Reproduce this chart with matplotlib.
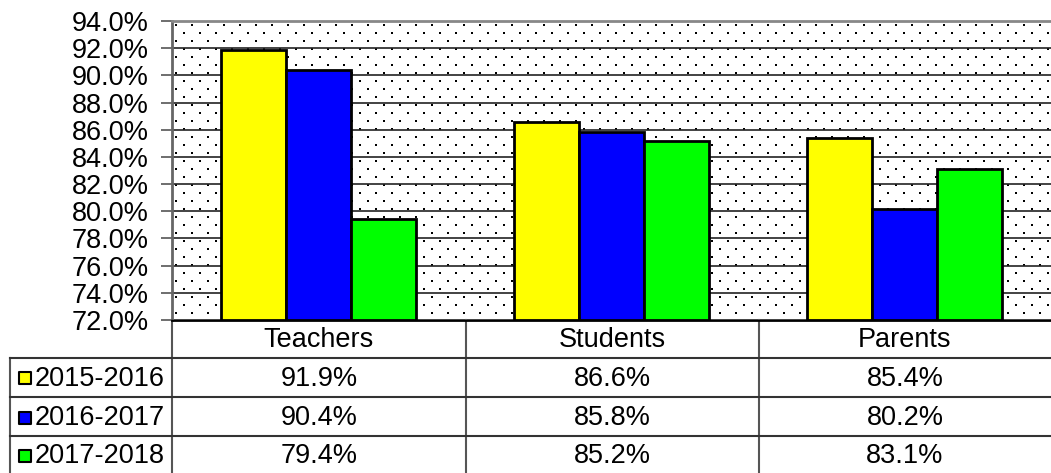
import matplotlib.pyplot as plt
import numpy as np

plt.rcParams['font.family'] = ['Liberation Sans', 'DejaVu Sans']

categories = ["Teachers", "Students", "Parents"]
series = ["2015-2016", "2016-2017", "2017-2018"]
v_2015 = [91.9, 86.6, 85.4]
v_2016 = [90.4, 85.8, 80.2]
v_2017 = [79.4, 85.2, 83.1]
values = [v_2015, v_2016, v_2017]
colors = ["#ffff00", "#0000ff", "#00ff00"]
yticks = np.arange(72, 94.1, 2)

W, H = 1051, 473
FS = 19.5
fig = plt.figure(figsize=(W / 100, H / 100), dpi=100)

# plot area in pixel coordinates
left, right, top, bottom = 172, 1051, 21, 320
ax = fig.add_axes([left / W, (H - bottom) / H, (right - left) / W, (bottom - top) / H])

# dotted background pattern (staggered grid)
pw, ph = right - left, bottom - top
dx, dy = 16, 8
pts = []
for j, yy in enumerate(np.arange(4, ph, dy)):
    off = 4 if j % 2 == 0 else 12
    for xx in np.arange(off, pw, dx):
        pts.append((xx / pw, 1 - yy / ph))
pts = np.array(pts)
ax.scatter(pts[:, 0], pts[:, 1], s=1.8, marker='s', color='black', linewidths=0,
           transform=ax.transAxes, zorder=0.5, clip_on=True)

x = np.arange(len(categories))
bw = 0.222
for i, (vals, c) in enumerate(zip(values, colors)):
    ax.bar(x + (i - 1) * bw, np.array(vals) - 72, bottom=72, width=bw, color=c,
           edgecolor='black', linewidth=2, zorder=3)

ax.set_xlim(-0.5, 2.5)
ax.set_ylim(72, 94)
ax.set_yticks(yticks)
ax.set_yticklabels([f"{t:.1f}%" for t in yticks], fontsize=FS)
ax.tick_params(axis='y', length=8, width=1.2, color='#555555', pad=9)
ax.set_xticks([])
ax.yaxis.grid(True, color='#222222', linewidth=1.2, zorder=1)
ax.set_axisbelow(True)
for s in ['right', 'bottom']:
    ax.spines[s].set_visible(False)
ax.spines['left'].set_color('#666666')
ax.spines['left'].set_linewidth(2)
ax.spines['top'].set_color('#888888')
ax.spines['top'].set_linewidth(2)

# data table below the chart
tax = fig.add_axes([0, 0, 1, (H - bottom) / H])
tax.set_xlim(0, W)
tax.set_ylim(H, bottom)
tax.axis('off')
tax.set_zorder(2)
col_edges = [172, 466, 759, 1051]
row_edges = [320, 358, 397, 436, 473]
lc = '#333333'
for xe in col_edges[:-1]:
    tax.plot([xe, xe], [row_edges[0], H], color='#555555', lw=1.5, clip_on=False)
tax.plot([10, 10], [row_edges[1], H], color='#555555', lw=1.5)
for ye in row_edges[1:-1]:
    tax.plot([10, W], [ye, ye], color=lc, lw=1.5)
tax.plot([left, W], [bottom, bottom], color='black', lw=2)

for k, cat in enumerate(categories):
    cx = (col_edges[k] + col_edges[k + 1]) / 2
    tax.text(cx, (row_edges[0] + row_edges[1]) / 2 + 1, cat, ha='center', va='center', fontsize=FS)
for r, (name, vals, c) in enumerate(zip(series, values, colors)):
    cy = (row_edges[r + 1] + row_edges[r + 2]) / 2 + 1
    tax.scatter([25], [cy], s=85, marker='s', color=c, edgecolors='black', linewidths=1.5)
    tax.text(35, cy, name, ha='left', va='center', fontsize=FS)
    for k, v in enumerate(vals):
        cx = (col_edges[k] + col_edges[k + 1]) / 2
        tax.text(cx, cy, f"{v:.1f}%", ha='center', va='center', fontsize=FS)

fig.savefig("out.png", dpi=100)
